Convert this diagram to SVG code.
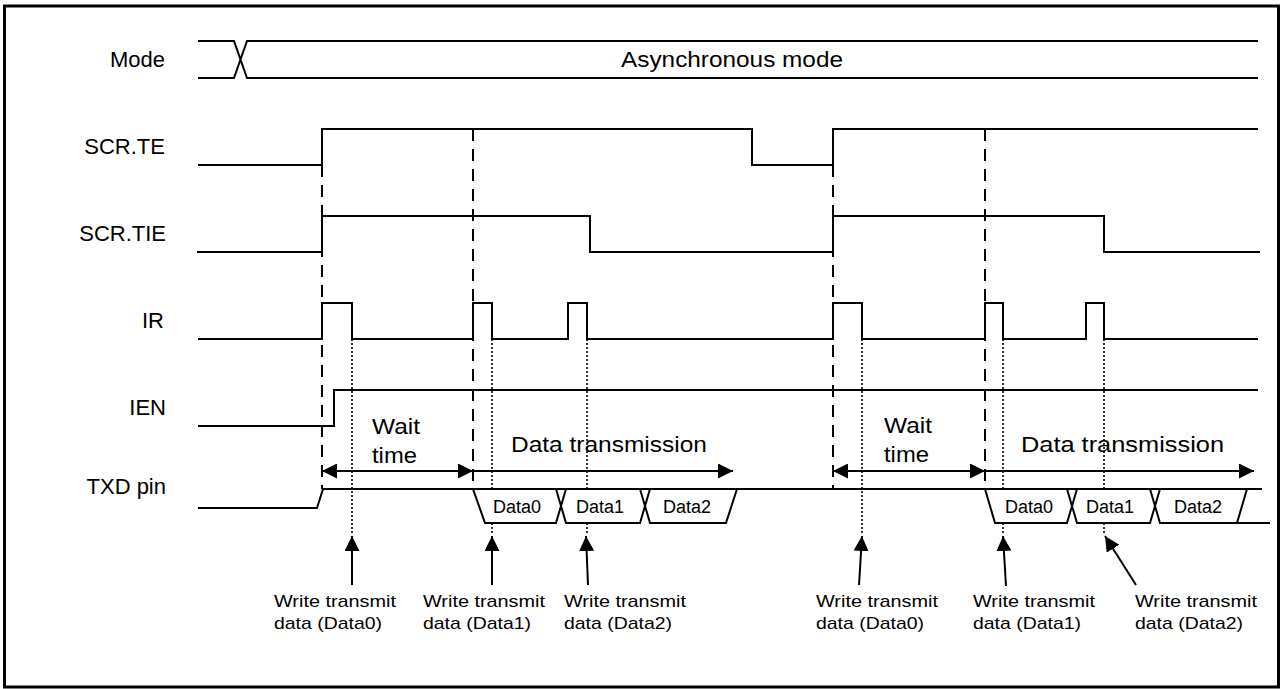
<svg xmlns="http://www.w3.org/2000/svg" width="1282" height="689" viewBox="0 0 1282 689">
<style>
.sig{fill:none;stroke:#000;stroke-width:2}
.dash{fill:none;stroke:#000;stroke-width:2;stroke-dasharray:12 8}
.dot{fill:none;stroke:#000;stroke-width:1.6;stroke-dasharray:2 2}
.box{fill:#fff;stroke:#000;stroke-width:2}
.arr{fill:none;stroke:#000;stroke-width:2}
text{font-family:"Liberation Sans",Arial,sans-serif;fill:#000}
.lbl{font-size:22px;text-anchor:end}
.big{font-size:22px}
.dat{font-size:18px;text-anchor:middle}
.note{font-size:17px}
</style>
<defs>
<marker id="ah" viewBox="0 0 15 15" refX="15" refY="7.5" markerWidth="15" markerHeight="15" markerUnits="userSpaceOnUse" orient="auto-start-reverse">
<path d="M0,0 L15,7.5 L0,15 Z" fill="#000"/>
</marker>
</defs>
<rect x="4.5" y="6" width="1274" height="681" fill="#fff" stroke="#000" stroke-width="3"/>

<g id="labels">
<text class="lbl" x="165" y="67">Mode</text>
<text class="lbl" x="165" y="154">SCR.TE</text>
<text class="lbl" x="166" y="241">SCR.TIE</text>
<text class="lbl" x="164" y="328">IR</text>
<text class="lbl" x="166" y="415">IEN</text>
<text class="lbl" x="166" y="494">TXD pin</text>
</g>

<g id="guides">
<path class="dash" d="M322,165 V489 M473,129 V489 M833,165 V489 M985,129 V489"/>
<path class="dot" d="M352,339 V535 M492,339 V535 M587,339 V535 M862,339 V535 M1003,339 V535 M1104,339 V535"/>
</g>

<g id="mode">
<path class="sig" d="M198,41 H234 L247,78 H1258 M198,78 H234 L247,41 H1258"/>
<text class="big" x="621" y="67" textLength="222" lengthAdjust="spacingAndGlyphs">Asynchronous mode</text>
</g>

<g id="scr-te">
<path class="sig" d="M198,165 H322 V129 H752 V165 H833 V129 H1258"/>
</g>

<g id="scr-tie">
<path class="sig" d="M197,252 H322 V216 H590 V252 H833 V216 H1104 V252 H1260"/>
</g>

<g id="ir">
<path class="sig" d="M198,339 H322 V303 H352 V339 H473 V303 H492 V339 H568 V303 H587 V339 H833 V303 H862 V339 H985 V303 H1003 V339 H1086 V303 H1104 V339 H1258"/>
</g>

<g id="ien">
<path class="sig" d="M198,426 H334 V390 H1258"/>
</g>

<g id="txd">
<path class="sig" d="M198,508 H317 L323,489 H1262 M1237,523 H1270"/>
<polygon class="box" points="473,489 556,489 561,506 556,523 485,523"/>
<polygon class="box" points="566,489 640,489 645,506 640,523 566,523 561,506"/>
<polygon class="box" points="650,489 737,489 726,523 650,523 645,506"/>
<polygon class="box" points="985,489 1067,489 1072,506 1067,523 995,523"/>
<polygon class="box" points="1077,489 1150,489 1155,506 1150,523 1077,523 1072,506"/>
<polygon class="box" points="1160,489 1247,489 1237,523 1160,523 1155,506"/>
<text class="dat" x="517" y="513">Data0</text>
<text class="dat" x="600" y="513">Data1</text>
<text class="dat" x="687" y="513">Data2</text>
<text class="dat" x="1029" y="513">Data0</text>
<text class="dat" x="1110" y="513">Data1</text>
<text class="dat" x="1198" y="513">Data2</text>
</g>

<g id="phase-labels">
<text class="big" x="372" y="434" textLength="48" lengthAdjust="spacingAndGlyphs">Wait</text>
<text class="big" x="372" y="463" textLength="45" lengthAdjust="spacingAndGlyphs">time</text>
<text class="big" x="511" y="452" textLength="196" lengthAdjust="spacingAndGlyphs">Data transmission</text>
<text class="big" x="884" y="433" textLength="48" lengthAdjust="spacingAndGlyphs">Wait</text>
<text class="big" x="884" y="462" textLength="45" lengthAdjust="spacingAndGlyphs">time</text>
<text class="big" x="1021" y="452" textLength="203" lengthAdjust="spacingAndGlyphs">Data transmission</text>
</g>

<g id="connectors">
<line class="arr" x1="322" y1="471" x2="473" y2="471" marker-start="url(#ah)" marker-end="url(#ah)"/>
<line class="arr" x1="473" y1="471" x2="733" y2="471" marker-end="url(#ah)"/>
<line class="arr" x1="833" y1="471" x2="985" y2="471" marker-start="url(#ah)" marker-end="url(#ah)"/>
<line class="arr" x1="985" y1="471" x2="1254" y2="471" marker-end="url(#ah)"/>
<line class="arr" x1="352" y1="585" x2="352" y2="536" marker-end="url(#ah)"/>
<line class="arr" x1="492" y1="585" x2="492" y2="536" marker-end="url(#ah)"/>
<line class="arr" x1="588" y1="585" x2="586" y2="536" marker-end="url(#ah)"/>
<line class="arr" x1="859" y1="585" x2="862" y2="536" marker-end="url(#ah)"/>
<line class="arr" x1="1006" y1="586" x2="1003" y2="536" marker-end="url(#ah)"/>
<line class="arr" x1="1136" y1="585" x2="1105" y2="536" marker-end="url(#ah)"/>
</g>

<g id="notes">
<text class="note" x="274" y="607" textLength="122" lengthAdjust="spacingAndGlyphs">Write transmit</text>
<text class="note" x="274" y="629" textLength="108" lengthAdjust="spacingAndGlyphs">data (Data0)</text>
<text class="note" x="423" y="607" textLength="122" lengthAdjust="spacingAndGlyphs">Write transmit</text>
<text class="note" x="423" y="629" textLength="108" lengthAdjust="spacingAndGlyphs">data (Data1)</text>
<text class="note" x="564" y="607" textLength="122" lengthAdjust="spacingAndGlyphs">Write transmit</text>
<text class="note" x="564" y="629" textLength="108" lengthAdjust="spacingAndGlyphs">data (Data2)</text>
<text class="note" x="816" y="607" textLength="122" lengthAdjust="spacingAndGlyphs">Write transmit</text>
<text class="note" x="816" y="629" textLength="108" lengthAdjust="spacingAndGlyphs">data (Data0)</text>
<text class="note" x="973" y="607" textLength="122" lengthAdjust="spacingAndGlyphs">Write transmit</text>
<text class="note" x="973" y="629" textLength="108" lengthAdjust="spacingAndGlyphs">data (Data1)</text>
<text class="note" x="1135" y="607" textLength="122" lengthAdjust="spacingAndGlyphs">Write transmit</text>
<text class="note" x="1135" y="629" textLength="108" lengthAdjust="spacingAndGlyphs">data (Data2)</text>
</g>
</svg>
